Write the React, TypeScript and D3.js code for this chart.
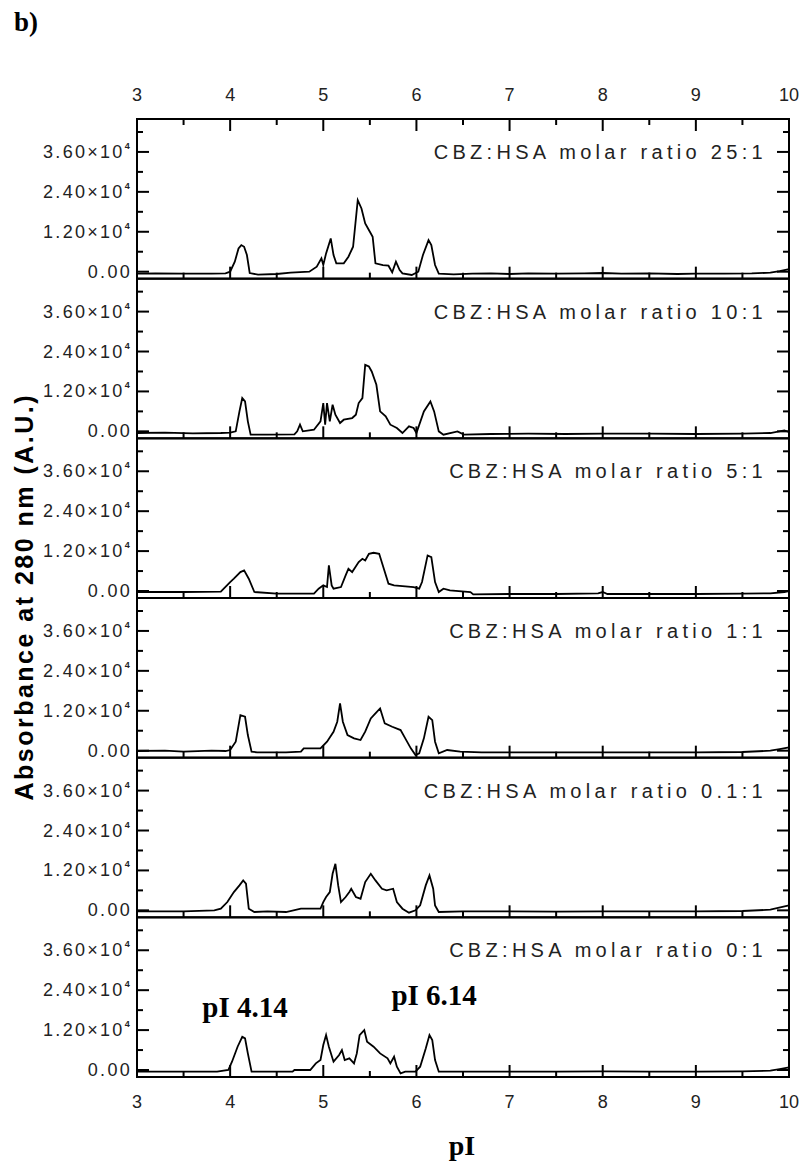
import React from "react";
import * as d3 from "d3";

// pI / absorbance pairs, top panel first
const ratio25 = [[3.0,-600],[3.2,-500],[3.5,-600],[3.8,-600],[3.95,-500],[4.0,0],[4.05,3000],[4.09,7000],[4.12,8000],[4.15,7500],[4.18,5000],[4.21,-400],[4.3,-900],[4.5,-700],[4.65,-300],[4.85,0],[4.93,1500],[4.98,4000],[5.0,2000],[5.03,5500],[5.08,10000],[5.11,5000],[5.14,2500],[5.22,2500],[5.27,4500],[5.32,7500],[5.37,21500],[5.41,19000],[5.45,14500],[5.5,12000],[5.53,10500],[5.56,2500],[5.64,2000],[5.7,1800],[5.74,-200],[5.78,3000],[5.82,500],[5.85,-500],[5.95,-1000],[6.02,0],[6.07,5000],[6.13,9500],[6.16,8000],[6.2,2000],[6.24,-600],[6.4,-800],[6.6,-600],[6.8,-500],[7.0,-700],[7.2,-500],[7.5,-600],[7.8,-500],[8.0,-400],[8.2,-600],[8.5,-500],[8.8,-700],[9.0,-600],[9.3,-600],[9.6,-500],[9.8,-300],[9.9,200],[10.0,800]];
const ratio10 = [[3.0,-500],[3.3,-400],[3.6,-600],[3.9,-500],[4.0,-400],[4.06,0],[4.1,6000],[4.13,10000],[4.16,9000],[4.19,3000],[4.22,-1000],[4.4,-1000],[4.69,-900],[4.72,0],[4.75,2000],[4.78,0],[4.9,500],[4.97,3000],[5.0,8500],[5.02,2000],[5.04,8500],[5.07,3000],[5.1,8000],[5.13,5000],[5.18,2500],[5.22,3500],[5.31,4000],[5.35,5000],[5.38,8500],[5.42,10000],[5.45,20000],[5.49,19500],[5.52,18000],[5.57,14000],[5.61,6000],[5.67,4500],[5.72,2000],[5.79,1000],[5.85,-500],[5.92,1500],[5.97,1000],[6.0,-500],[6.08,6000],[6.15,9000],[6.19,6000],[6.24,0],[6.29,-1000],[6.44,0],[6.51,-1000],[6.8,-800],[7.2,-700],[7.6,-800],[8.0,-700],[8.5,-700],[9.0,-800],[9.5,-700],[9.8,-500],[9.95,300],[10.0,-200]];
const ratio5 = [[3.0,-300],[3.5,-300],[3.9,-200],[4.0,2700],[4.04,3700],[4.11,5700],[4.15,6200],[4.2,3700],[4.26,-300],[4.5,-800],[4.9,-800],[4.95,700],[5.0,1700],[5.04,1200],[5.06,7700],[5.09,1700],[5.11,700],[5.19,1200],[5.24,4700],[5.27,6700],[5.31,5700],[5.38,8700],[5.42,9700],[5.45,9200],[5.49,11200],[5.54,11500],[5.6,11200],[5.65,6700],[5.7,2200],[5.76,1700],[5.97,1200],[6.03,700],[6.06,2700],[6.12,10700],[6.16,10200],[6.2,2700],[6.24,-300],[6.29,700],[6.36,200],[6.58,-300],[6.61,-1000],[7.0,-900],[7.5,-900],[7.95,-700],[8.0,-300],[8.05,-900],[8.5,-900],[9.0,-900],[9.5,-800],[9.8,-700],[9.95,-300],[10.0,0]];
const ratio1 = [[3.0,-100],[3.3,0],[3.5,-300],[3.8,0],[3.95,-100],[4.0,200],[4.06,2700],[4.11,10700],[4.16,10200],[4.19,4700],[4.23,-300],[4.29,-500],[4.6,-500],[4.76,-300],[4.79,700],[4.97,700],[5.04,2700],[5.11,5700],[5.15,8700],[5.18,14200],[5.21,8700],[5.26,4700],[5.33,3700],[5.4,3200],[5.45,5700],[5.51,9700],[5.56,11200],[5.61,12700],[5.66,8200],[5.74,7200],[5.83,6200],[5.88,3700],[5.94,700],[5.99,-1300],[6.03,-800],[6.08,3700],[6.13,10200],[6.17,9200],[6.2,2700],[6.24,-800],[6.33,200],[6.47,-300],[6.7,-500],[7.0,-500],[7.5,-500],[8.0,-500],[8.5,-500],[9.0,-500],[9.5,-400],[9.8,0],[9.9,500],[10.0,1000]];
const ratio01 = [[3.0,-300],[3.5,-300],[3.83,0],[3.9,500],[3.97,2500],[4.04,5500],[4.1,7500],[4.14,9000],[4.17,8000],[4.2,500],[4.26,-500],[4.4,-300],[4.6,-500],[4.76,500],[4.97,500],[5.0,2500],[5.03,4000],[5.07,5500],[5.1,11000],[5.13,14000],[5.16,7500],[5.19,2500],[5.24,4000],[5.28,5500],[5.3,6500],[5.35,4000],[5.4,3500],[5.45,8500],[5.51,11000],[5.56,9000],[5.63,6500],[5.68,6000],[5.75,6500],[5.79,2500],[5.85,500],[5.92,-700],[5.99,0],[6.04,1500],[6.1,7500],[6.14,10500],[6.18,6500],[6.2,1500],[6.24,-500],[6.5,-300],[7.0,-300],[7.5,-400],[8.0,-300],[8.5,-300],[9.0,-300],[9.5,-200],[9.8,200],[10.0,1500]];
const ratio0 = [[3.0,-500],[3.5,-500],[3.86,-500],[3.98,0],[4.02,2500],[4.08,7000],[4.13,10000],[4.16,9500],[4.19,5000],[4.23,-500],[4.5,-500],[4.67,-500],[4.69,0],[4.86,0],[4.92,2000],[4.97,3000],[5.0,7500],[5.03,10500],[5.06,7000],[5.11,2500],[5.17,4500],[5.2,6000],[5.23,3000],[5.28,3500],[5.33,2000],[5.36,5000],[5.39,10500],[5.44,12000],[5.47,8500],[5.54,7000],[5.61,5000],[5.69,3500],[5.72,2000],[5.76,4000],[5.79,1000],[5.83,-1000],[5.88,-500],[5.99,-500],[6.04,1000],[6.1,6500],[6.14,10500],[6.17,9000],[6.2,3000],[6.24,-500],[6.5,-500],[7.0,-500],[7.5,-500],[8.0,-400],[8.5,-500],[9.0,-500],[9.5,-400],[9.8,-200],[9.9,300],[10.0,800]];

const series = [ratio25, ratio10, ratio5, ratio1, ratio01, ratio0];
const panelLabels = [
  "CBZ:HSA molar ratio 25:1",
  "CBZ:HSA molar ratio 10:1",
  "CBZ:HSA molar ratio 5:1",
  "CBZ:HSA molar ratio 1:1",
  "CBZ:HSA molar ratio 0.1:1",
  "CBZ:HSA molar ratio 0:1",
];
const yMajor = [0, 12000, 24000, 36000];
const yMinor = [6000, 18000, 30000, 42000];
const yLabels = ["0.00", "1.20×10", "2.40×10", "3.60×10"];
const xMajor = [3, 4, 5, 6, 7, 8, 9, 10];
const xMinor = [3.5, 4.5, 5.5, 6.5, 7.5, 8.5, 9.5];
const peakNotes = [
  { text: "pI 4.14", x: 4.16, v: 15900 },
  { text: "pI 6.14", x: 6.19, v: 19500 },
];

const W = 803;
const H = 1164;
const left = 137;
const right = 789;
const top = 119;
const bottom = 1077;
const panelH = (bottom - top) / series.length;
const sans = "'Liberation Sans', Arial, sans-serif";
const serif = "'Liberation Serif', 'Times New Roman', serif";

const x = d3.scaleLinear().domain([3, 10]).range([left, right]);

export default function App() {
  return (
    <svg width={W} height={H} style={{ position: "absolute", left: 0, top: 0, background: "#fff" }}>
      <text x={14} y={31} fontFamily={serif} fontWeight="bold" fontSize={27}>b)</text>

      {xMajor.map((t) => (
        <text key={"tt" + t} x={x(t)} y={101} textAnchor="middle" fontFamily={sans} fontSize={18} fill="#222">{t}</text>
      ))}
      {xMajor.map((t) => (
        <text key={"bt" + t} x={x(t)} y={1108} textAnchor="middle" fontFamily={sans} fontSize={18} fill="#222">{t}</text>
      ))}

      {series.map((data, i) => {
        const pTop = top + i * panelH;
        const pBot = pTop + panelH;
        const y = d3.scaleLinear().domain([-2100, 45900]).range([pBot, pTop]);
        const line = d3.line<number[]>().x((d) => x(d[0])).y((d) => y(d[1]));
        return (
          <g key={i}>
            <path d={line(data) || ""} fill="none" stroke="#000" strokeWidth={1.8} strokeLinejoin="miter" />
            <rect x={left} y={pTop} width={right - left} height={panelH} fill="none" stroke="#000" strokeWidth={2} />
            {yMajor.map((v, k) => (
              <g key={"ym" + k}>
                <line x1={left} x2={left + 12} y1={y(v)} y2={y(v)} stroke="#000" strokeWidth={2} />
                <line x1={right} x2={right - 12} y1={y(v)} y2={y(v)} stroke="#000" strokeWidth={2} />
                <text x={132} y={y(v) + 6} textAnchor="end" fontFamily={sans} fontSize={18} letterSpacing={2.3} fill="#222">
                  {yLabels[k]}
                  {k > 0 && <tspan dy={-9} fontSize={9} fontWeight="bold">4</tspan>}
                </text>
              </g>
            ))}
            {yMinor.map((v, k) => (
              <g key={"yn" + k}>
                <line x1={left} x2={left + 6} y1={y(v)} y2={y(v)} stroke="#000" strokeWidth={2} />
                <line x1={right} x2={right - 6} y1={y(v)} y2={y(v)} stroke="#000" strokeWidth={2} />
              </g>
            ))}
            {xMajor.map((t) => (
              <line key={"xb" + t} x1={x(t)} x2={x(t)} y1={pBot} y2={pBot - 12} stroke="#000" strokeWidth={2} />
            ))}
            {xMinor.map((t) => (
              <line key={"xn" + t} x1={x(t)} x2={x(t)} y1={pBot} y2={pBot - 6} stroke="#000" strokeWidth={2} />
            ))}
            {i === 0 && xMajor.map((t) => (
              <line key={"xt" + t} x1={x(t)} x2={x(t)} y1={pTop} y2={pTop + 12} stroke="#000" strokeWidth={2} />
            ))}
            {i === 0 && xMinor.map((t) => (
              <line key={"xtn" + t} x1={x(t)} x2={x(t)} y1={pTop} y2={pTop + 6} stroke="#000" strokeWidth={2} />
            ))}
            <text x={767} y={pTop + 40} textAnchor="end" fontFamily={sans} fontSize={20} letterSpacing={4.3} fill="#222">
              {panelLabels[i]}
            </text>
            {i === series.length - 1 && peakNotes.map((p) => (
              <text key={p.text} x={x(p.x)} y={y(p.v)} textAnchor="middle" fontFamily={serif} fontWeight="bold" fontSize={29}>{p.text}</text>
            ))}
          </g>
        );
      })}

      <text
        transform={`translate(33, ${(top + bottom) / 2}) rotate(-90)`}
        textAnchor="middle"
        fontFamily={sans}
        fontWeight="bold"
        fontSize={25}
        textLength={405}
        lengthAdjust="spacing"
      >
        Absorbance at 280 nm (A.U.)
      </text>
      <text x={462} y={1155} textAnchor="middle" fontFamily={serif} fontWeight="bold" fontSize={28}>pI</text>
    </svg>
  );
}
